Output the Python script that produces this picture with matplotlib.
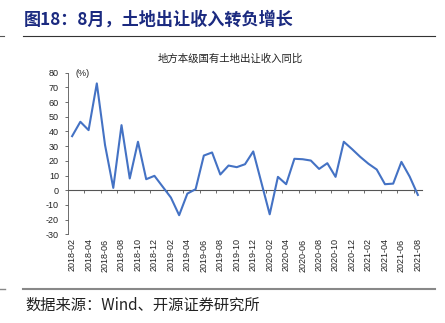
import matplotlib.pyplot as plt
import numpy as np

plt.rcParams['font.family'] = ['Liberation Sans', 'Noto Sans CJK SC', 'DejaVu Sans']
plt.rcParams['axes.unicode_minus'] = False

# monthly land-sale revenue yoy, 2018-02 .. 2021-08 (%)
months = ['2018-02', '2018-03', '2018-04', '2018-05', '2018-06', '2018-07', '2018-08',
          '2018-09', '2018-10', '2018-11', '2018-12', '2019-01', '2019-02', '2019-03',
          '2019-04', '2019-05', '2019-06', '2019-07', '2019-08', '2019-09', '2019-10',
          '2019-11', '2019-12', '2020-01', '2020-02', '2020-03', '2020-04', '2020-05',
          '2020-06', '2020-07', '2020-08', '2020-09', '2020-10', '2020-11', '2020-12',
          '2021-01', '2021-02', '2021-03', '2021-04', '2021-05', '2021-06', '2021-07',
          '2021-08']
yoy = [36.8, 46.6, 40.9, 72.7, 30.7, 1.6, 44.3, 8.0, 33.0, 7.5, 9.8, 2.4, -5.0, -17.0,
       -2.3, 0.7, 23.6, 25.7, 10.7, 16.8, 15.7, 17.7, 26.4, 5.0, -16.4, 9.1, 4.1, 21.4,
       21.1, 20.2, 14.5, 18.4, 9.1, 33.0, 28.0, 22.7, 18.0, 14.1, 4.1, 4.5, 19.3, 9.3, -3.2]

yticks = list(range(-30, 81, 10))

fig = plt.figure(figsize=(4.45, 3.23), dpi=100)
ax = fig.add_axes([68 / 445, 1 - 234.3 / 323, 354 / 445, 161.6 / 323])

x = np.arange(len(months))
ax.plot(x, yoy, color='#4472C4', lw=1.5)

ax.set_xlim(-0.5, len(months) - 0.5)
ax.set_ylim(-30, 80)
ax.set_yticks(yticks)
ax.tick_params(axis='y', direction='out', length=2.5, width=0.6, pad=4,
               labelsize=6.5, color='#555555', labelcolor='#222222')

# labels every two months along the bottom
ax.set_xticks(x[::2])
ax.set_xticklabels(months[::2], rotation=90, fontsize=6.5, color='#222222')
ax.tick_params(axis='x', length=0, pad=3)

for s in ['top', 'right', 'bottom']:
    ax.spines[s].set_visible(False)
ax.spines['left'].set_color('#555555')
ax.spines['left'].set_linewidth(0.6)

# zero line with tick marks between categories
zx = ax.secondary_xaxis(30 / 110)
zx.set_xticks(x[1::2] + 0.5)
zx.set_xticklabels([])
zx.tick_params(direction='out', length=2.5, width=0.6, color='#555555')
zx.spines['bottom'].set_color('#555555')
zx.spines['bottom'].set_linewidth(0.8)

ax.text(0.02, 0.965, '(%)', transform=ax.transAxes, fontsize=6.5, color='#222222',
        ha='left', va='bottom')

fig.text(230 / 445, 1 - 59 / 323, '地方本级国有土地出让收入同比', ha='center', va='center',
         fontsize=7.5, family=['Noto Sans CJK SC'], color='#222222')

fig.text(24 / 445, 1 - 20 / 323, '图18：8月，土地出让收入转负增长', ha='left', va='center',
         fontsize=12.3, fontweight='bold', family=['Noto Sans CJK SC'], color='#1B2A80')

fig.add_artist(plt.Line2D([23 / 445, 435 / 445], [1 - 35.7 / 323] * 2, color='#333333', lw=0.8))
fig.add_artist(plt.Line2D([0, 4 / 445], [1 - 35.7 / 323] * 2, color='#555555', lw=0.8))
fig.add_artist(plt.Line2D([23 / 445, 435 / 445], [1 - 289 / 323] * 2, color='#888888', lw=1.5))
fig.add_artist(plt.Line2D([0, 5 / 445], [1 - 289 / 323] * 2, color='#888888', lw=1.0))

fig.text(25 / 445, 1 - 305 / 323, '数据来源：Wind、开源证券研究所', ha='left', va='center',
         fontsize=11, family=['Noto Sans CJK SC'], color='#222222')

fig.savefig('out.png', dpi=100)
